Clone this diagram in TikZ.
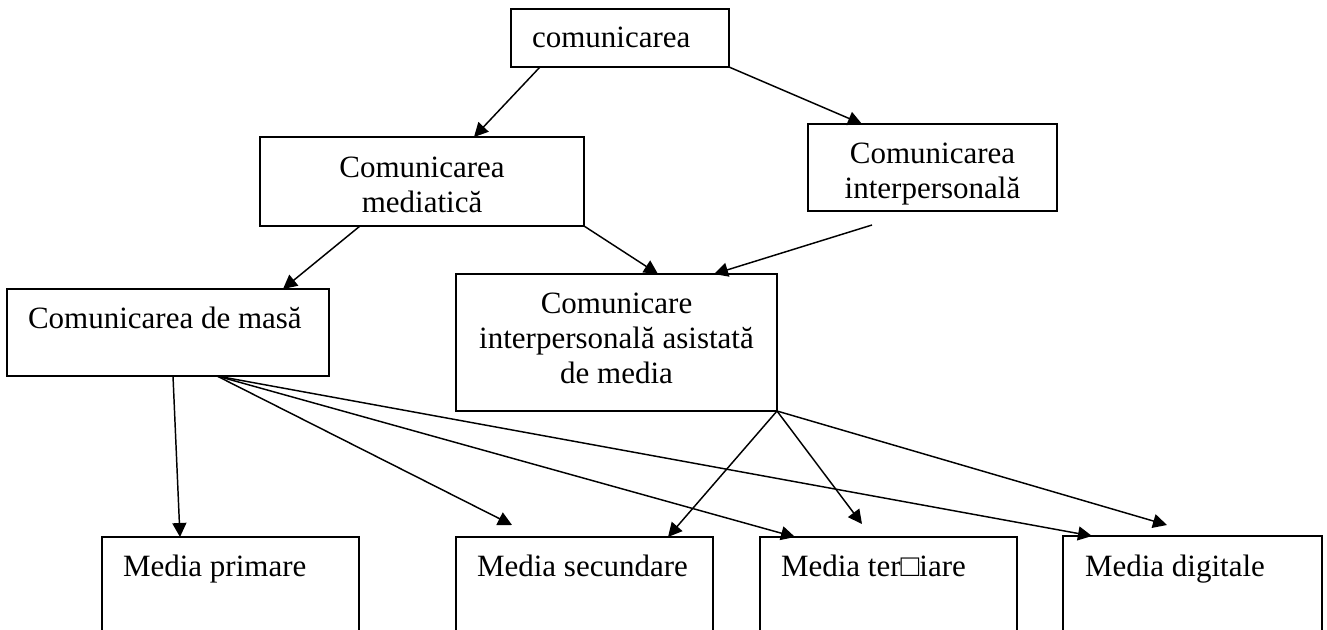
\documentclass[tikz,border=0pt]{standalone}
\usepackage{fontspec}
\setmainfont{Liberation Serif}
\usetikzlibrary{arrows.meta,calc,fit}
\begin{document}
\begin{tikzpicture}[x=0.75pt,y=-0.75pt,
  box/.style={draw,line width=1.2pt,inner sep=0pt,outer sep=0pt,rectangle},
  txt/.style={inner sep=0pt,outer sep=0pt,font=\fontsize{23.25pt}{26.25pt}\selectfont},
  conn/.style={line width=1.1pt,-{Triangle[length=10.5pt,width=10.5pt]}}]
\useasboundingbox (0,0) rectangle (1327,629);
% boxes
\node[box,fit={(511,9) (729,67)}] (top) {};
\node[box,fit={(260,137) (584,226)}] (med) {};
\node[box,fit={(808,124) (1057,211)}] (inter) {};
\node[box,fit={(7,289) (329,376)}] (masa) {};
\node[box,fit={(456,274) (777,411)}] (asist) {};
\node[box,fit={(102,537) (359,690)}] (prim) {};
\node[box,fit={(456,537) (713,690)}] (sec) {};
\node[box,fit={(760,537) (1017,690)}] (ter) {};
\node[box,fit={(1063,536) (1322,690)}] (dig) {};
% texts
\node[txt,anchor=base west] (ttop) at (532,47) {comunicarea};
\node[txt,align=center] (tmed) at (422,185) {Comunicarea\\mediatică};
\node[txt,align=center] (tinter) at (932.5,174) {Comunicarea\\interpersonală};
\node[txt,anchor=base west] (tmasa) at (28,328) {Comunicarea de masă};
\node[txt,align=center] (tasist) at (616.5,338.5) {Comunicare\\interpersonală asistată\\de media};
\node[txt,anchor=base west] (tprim) at (123,576) {Media primare};
\node[txt,anchor=base west] (tsec) at (477,576) {Media secundare};
\node[txt,anchor=base west] (tter) at (781,576) {Media ter□iare};
\node[txt,anchor=base west] (tdig) at (1085,576) {Media digitale};
% free ends
\coordinate (interout) at ($(inter.south west)+(64,14)$);
\coordinate (secend) at ($(sec.north west)+(56,-12)$);
\coordinate (terend) at ($(ter.north west)+(102,-13)$);
\coordinate (digend) at ($(dig.north west)+(104,-11)$);
% connectors
\draw[conn] ($(top.south west)+(29,0)$) -- ($(med.north west)+(214,0)$);
\draw[conn] (top.south east) -- ($(inter.north west)+(54,0)$);
\draw[conn] ($(med.south west)+(100,0)$) -- ($(masa.north east)+(-46,0)$);
\draw[conn] (med.south east) -- ($(asist.north west)+(202,0)$);
\draw[conn] (interout) -- ($(asist.north west)+(258,0)$);
\draw[conn] ($(masa.south west)+(166,0)$) -- ($(prim.north west)+(78,0)$);
\draw[conn] ($(masa.south west)+(210,0)$) -- (secend);
\draw[conn] ($(masa.south west)+(210,0)$) -- ($(ter.north west)+(35,0)$);
\draw[conn] ($(masa.south west)+(210,0)$) -- ($(dig.north west)+(29,0)$);
\draw[conn] (asist.south east) -- ($(sec.north west)+(212,0)$);
\draw[conn] (asist.south east) -- (terend);
\draw[conn] (asist.south east) -- (digend);
\end{tikzpicture}
\end{document}
